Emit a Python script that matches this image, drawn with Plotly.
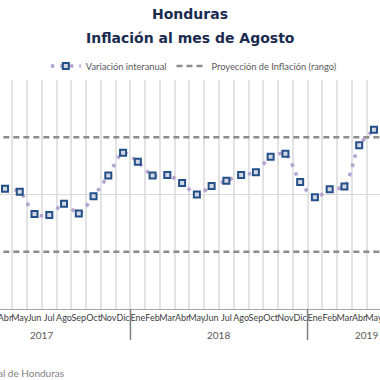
import plotly.graph_objects as go

# ---- data ----
month_names = ["Ene", "Feb", "Mar", "Abr", "May", "Jun", "Jul", "Ago", "Sep", "Oct", "Nov", "Dic"]
years = [2017, 2018, 2019]
months_per_year = [12, 12, 8]          # Ene 2017 .. Ago 2019

# visible observations: Abr 2017 .. May 2019
series_start = (2017, 4)
inflation = [4.10, 4.05, 3.66, 3.64, 3.84, 3.67, 3.97, 4.33, 4.73,
             4.57, 4.33, 4.34, 4.20, 4.00, 4.15, 4.24, 4.34, 4.39, 4.66, 4.71, 4.22,
             3.95, 4.09, 4.14, 4.86, 5.13]
proj_low = 3.0
proj_high = 5.0

# ---- derived positions (month index, Ene 2017 = 0) ----
def idx(y, m):
    return (y - 2017) * 12 + (m - 1)

start_i = idx(*series_start)
x_series = [start_i + k for k in range(len(inflation))]

tick_vals, tick_text = [], []
year_centers, year_bounds = [], []
i0 = 0
for y, n in zip(years, months_per_year):
    for m in range(n):
        tick_vals.append(i0 + m)
        tick_text.append(month_names[m])
    year_centers.append(i0 + (n - 1) / 2)
    year_bounds.append(i0 - 0.5)
    i0 += n
year_bounds.append(i0 - 0.5)
full_span = [tick_vals[0] - 0.5, tick_vals[-1] + 0.5]

FONT = "Lato"
TFONT = "DejaVu Sans"
fig = go.Figure()

fig.add_trace(go.Scatter(
    x=[full_span[0], full_span[1], None, full_span[0], full_span[1]],
    y=[proj_high, proj_high, None, proj_low, proj_low],
    mode="lines", name="Proyección de Inflación (rango)",
    line=dict(color="#8c8c8c", width=2.5, dash="6px,4px"),
    legendrank=2, hoverinfo="skip"))

fig.add_trace(go.Scatter(
    x=x_series, y=inflation, mode="lines+markers", name="Variación interanual",
    line=dict(color="#b5a3d1", width=3.5, dash="3.5px,6px", shape="spline", smoothing=0.8),
    marker=dict(symbol="square", size=6, color="#d3d8e2",
                line=dict(color="#24508a", width=2)),
    legendrank=1, cliponaxis=False))

# year dividers below the axis
shapes = []
for b in year_bounds:
    shapes.append(dict(type="line", xref="x", yref="paper", x0=b, x1=b, y0=0, y1=-0.135,
                       line=dict(color="#7f7f7f", width=1.5)))

annotations = [
    dict(text="<b>Honduras</b>", x=0.5, y=1.287, xref="paper", yref="paper", yanchor="middle",
         showarrow=False, font=dict(family=TFONT, size=14, color="#1b2b4f")),
    dict(text="<b>Inflación al mes de Agosto</b>", x=0.5, y=1.183, xref="paper", yref="paper",
         yanchor="middle", showarrow=False, font=dict(family=TFONT, size=14, color="#1b2b4f")),
    dict(text="Fuente: Banco Central de Honduras", x=66 / 380, y=-0.281, xref="paper", yref="paper",
         xanchor="right", yanchor="middle", showarrow=False,
         font=dict(family=FONT, size=10, color="#7f7f7f")),
]
for y, c in zip(years, year_centers):
    annotations.append(dict(text=str(y), x=c, y=-0.115, xref="x", yref="paper",
                            yanchor="middle", showarrow=False,
                            font=dict(family=FONT, size=10, color="#595959")))

fig.update_layout(
    width=380, height=380,
    margin=dict(l=0, r=0, t=80, b=70.5),
    paper_bgcolor="white", plot_bgcolor="white",
    font=dict(family=FONT, color="#595959"),
    showlegend=True,
    legend=dict(orientation="h", x=0.51, xanchor="center", y=1.061, yanchor="middle",
                font=dict(family=FONT, size=9.3, color="#595959"), bgcolor="rgba(0,0,0,0)"),
    shapes=shapes, annotations=annotations,
)
fig.update_xaxes(range=[2.661, 28.41], tickvals=tick_vals, ticktext=tick_text,
                 tickangle=0, automargin=False, ticklabeloverflow="allow",
                 showgrid=False, ticks="", tickfont=dict(family=FONT, size=9, color="#404040"),
                 showline=True, linecolor="#a6a6a6", linewidth=1, zeroline=False,
                 minor=dict(showgrid=True, tick0=0.5, dtick=1, gridcolor="#e3e3e3", gridwidth=1.5))
fig.update_yaxes(range=[2, 6], tickvals=[4], showticklabels=False, showgrid=True, automargin=False,
                 gridcolor="#d9d9d9", gridwidth=1, zeroline=False, showline=False)

fig.write_html("out.html", config={"displayModeBar": False},
               post_script="document.body.style.margin='0';")
